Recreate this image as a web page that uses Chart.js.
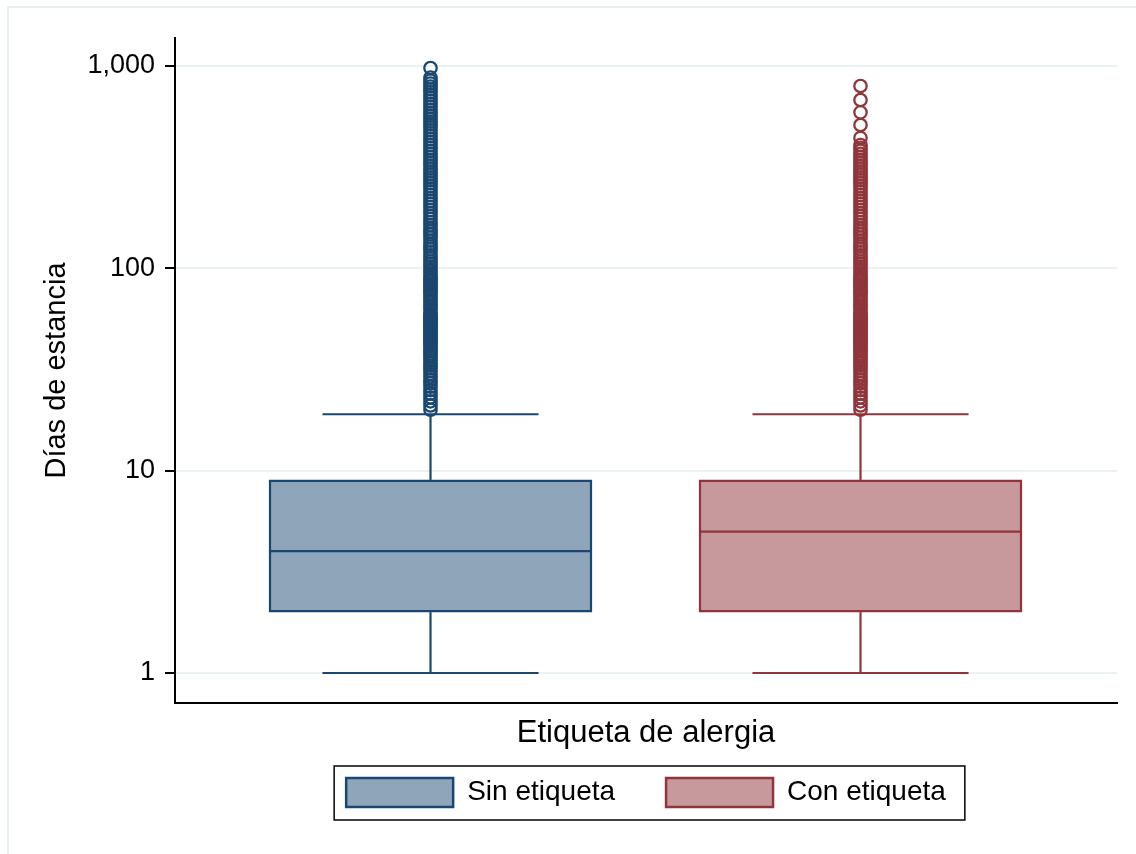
<!DOCTYPE html>
<html>
<head>
<meta charset="utf-8">
<script src="https://cdn.jsdelivr.net/npm/chart.js@4.4.1/dist/chart.umd.min.js"></script>
<style>
  html, body { margin: 0; padding: 0; background: #ffffff; }
  #wrap { width: 1136px; height: 854px; position: relative; }
  canvas { display: block; }
</style>
</head>
<body>
<div id="wrap"><canvas id="c" width="1136" height="854"></canvas></div>
<script>
// ---------- data ----------
const categories = ['Sin etiqueta', 'Con etiqueta'];
const q1Values = [2, 2];
const medianValues = [4, 5];
const q3Values = [9, 9];
const whiskerLow = [1, 1];
const whiskerHigh = [19, 19];
const outliersSin = [20,21,22,23,24,25,26,27,28,29,30,31,32,33,34,35,36,37,38,39,40,41,42,43,44,45,46,47,48,49,50,
  51,52,53,54,55,56,57,58,59,60,62,64,66,68,70,72,74,76,78,80,82,84,86,88,90,93,96,99,102,105,108,112,116,120,124,128,132,137,142,147,
  152,157,163,169,175,181,187,194,201,208,215,222,230,238,246,254,263,272,281,291,301,311,322,333,344,356,368,381,
  394,407,421,435,450,465,481,497,514,531,549,568,587,607,628,649,671,694,717,741,766,792,819,847,876,977];
const outliersCon = [20,21,22,23,24,25,26,27,28,29,30,31,32,33,34,35,36,37,38,39,40,41,42,43,44,45,46,47,48,49,50,
  51,52,53,54,55,56,57,58,59,60,62,64,66,68,70,72,74,76,78,80,82,84,86,88,90,93,96,99,102,105,108,112,116,120,124,128,132,137,142,147,
  152,157,163,169,175,181,187,194,201,208,215,222,230,238,246,254,263,272,281,291,301,311,322,333,344,356,368,381,
  394,407,441,511,590,679,796];
const outlierLists = [outliersSin, outliersCon];
const yTickValues = [1, 10, 100, 1000];
const yTickLabels = ['1', '10', '100', '1,000'];

// ---------- styles ----------
const strokeColors = ['#1a476f', '#90353b'];
const fillColors = ['#8fa5ba', '#c8999c'];
const FONT = "'Liberation Sans', Arial, Helvetica, sans-serif";
Chart.defaults.font.family = FONT;
Chart.defaults.color = '#000';

const boxDatasets = categories.map((name, i) => ({
  type: 'bar',
  label: name,
  data: [{ x: i + 1, y: [q1Values[i], q3Values[i]] }],
  backgroundColor: fillColors[i],
  borderColor: strokeColors[i],
  borderWidth: 2.5,
  borderSkipped: false,
  barThickness: 323,
  grouped: false,
  order: 2
}));

const outlierDatasets = categories.map((name, i) => ({
  type: 'scatter',
  label: name + ' (valores atípicos)',
  data: outlierLists[i].map(v => ({ x: i + 1, y: v })),
  showLine: false,
  pointRadius: 6.2,
  pointBorderWidth: 2.3,
  pointBackgroundColor: 'rgba(0,0,0,0)',
  pointBorderColor: strokeColors[i],
  order: 1
}));

const framePlugin = {
  id: 'frame',
  beforeDraw(chart) {
    const ctx = chart.ctx;
    ctx.save();
    ctx.fillStyle = '#ffffff';
    ctx.fillRect(0, 0, chart.width, chart.height);
    ctx.strokeStyle = '#e9f0f3';
    ctx.lineWidth = 2;
    ctx.strokeRect(8, 7, chart.width + 20, chart.height + 20);
    ctx.restore();
  }
};

const boxPartsPlugin = {
  id: 'boxParts',
  afterDatasetsDraw(chart) {
    const ctx = chart.ctx;
    const y = chart.scales.y;
    categories.forEach((name, i) => {
      const bar = chart.getDatasetMeta(i).data[0];
      if (!bar) return;
      const cx = bar.x;
      const half = bar.width / 2;
      const capHalf = half * 0.669;
      const seg = (x1, y1, x2, y2) => { ctx.beginPath(); ctx.moveTo(x1, y1); ctx.lineTo(x2, y2); ctx.stroke(); };
      ctx.save();
      ctx.strokeStyle = strokeColors[i];
      ctx.lineWidth = 2.2;
      const yMed = y.getPixelForValue(medianValues[i]);
      seg(cx - half + 1, yMed, cx + half - 1, yMed);
      const yQ3 = y.getPixelForValue(q3Values[i]);
      const yQ1 = y.getPixelForValue(q1Values[i]);
      const yHi = y.getPixelForValue(whiskerHigh[i]);
      const yLo = y.getPixelForValue(whiskerLow[i]);
      seg(cx, yQ3, cx, yHi);
      seg(cx, yQ1, cx, yLo);
      seg(cx - capHalf, yHi, cx + capHalf, yHi);
      seg(cx - capHalf, yLo, cx + capHalf, yLo);
      ctx.restore();
    });
  }
};

const legendBorderPlugin = {
  id: 'legendBorder',
  afterDraw(chart) {
    const lg = chart.legend;
    if (!lg || !lg.legendHitBoxes || lg.legendHitBoxes.length < 2) return;
    const hb = lg.legendHitBoxes;
    const first = hb[0], last = hb[hb.length - 1];
    const ctx = chart.ctx;
    const left = first.left - 12;
    const right = last.left + last.width + 19;
    const top = first.top - 12;
    const bottom = first.top + first.height + 13;
    ctx.save();
    ctx.strokeStyle = '#111';
    ctx.lineWidth = 1.6;
    ctx.strokeRect(left, top, right - left, bottom - top);
    ctx.restore();
  }
};

new Chart(document.getElementById('c'), {
  type: 'bar',
  data: { datasets: [...boxDatasets, ...outlierDatasets] },
  plugins: [framePlugin, boxPartsPlugin, legendBorderPlugin],
  options: {
    responsive: false,
    animation: false,
    events: [],
    devicePixelRatio: 1,
    layout: { padding: { left: 0, top: 38, right: 19, bottom: 37 } },
    plugins: {
      title: { display: false },
      tooltip: { enabled: false },
      legend: {
        display: true,
        position: 'bottom',
        fullSize: false,
        labels: {
          filter: (item) => item.datasetIndex < categories.length,
          boxWidth: 107,
          boxHeight: 29,
          padding: 51,
          color: '#000',
          font: { size: 28, family: FONT }
        }
      }
    },
    scales: {
      x: {
        type: 'linear',
        min: 0.4058,
        max: 2.5965,
        offset: false,
        grid: { display: false, offset: false },
        ticks: { display: false },
        border: { display: true, color: '#000', width: 2 },
        title: {
          display: true,
          text: 'Etiqueta de alergia',
          color: '#000',
          font: { size: 31, family: FONT, lineHeight: 1 },
          padding: { top: 0, bottom: -21.5 }
        },
        afterFit(s) { s.height = 24; }
      },
      y: {
        type: 'logarithmic',
        min: 0.7109,
        max: 1375,
        bounds: 'data',
        afterBuildTicks(s) { s.ticks = yTickValues.map(v => ({ value: v })); },
        ticks: {
          autoSkip: false,
          padding: 10,
          color: '#000',
          font: { size: 27, family: FONT },
          callback: (v) => { const k = yTickValues.indexOf(v); return k >= 0 ? yTickLabels[k] : ''; }
        },
        grid: { color: '#eaf2f3', lineWidth: 2, tickColor: '#000', tickLength: 10, drawTicks: true },
        border: { display: true, color: '#000', width: 2 },
        title: {
          display: true,
          text: 'Días de estancia',
          color: '#000',
          font: { size: 29, family: FONT },
          padding: { top: 39.6, bottom: 0 }
        },
        afterFit(s) { s.width = 175; }
      }
    }
  }
});
</script>
</body>
</html>
